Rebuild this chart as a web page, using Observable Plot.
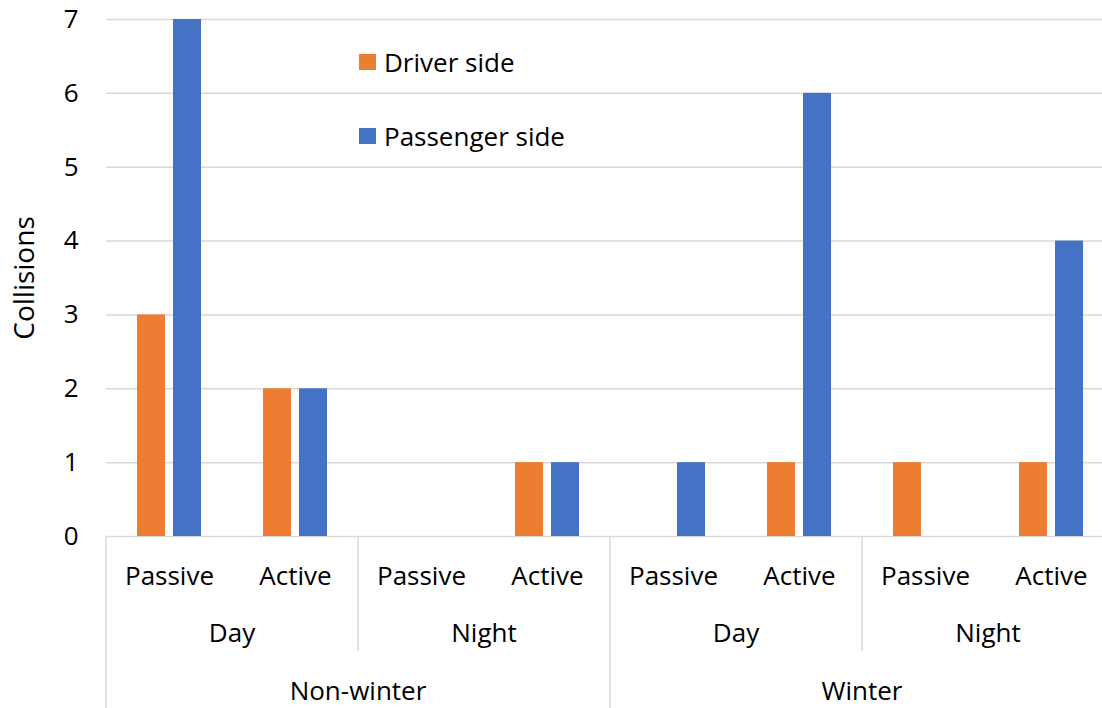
<!DOCTYPE html>
<html><head><meta charset="utf-8">
<script src="https://cdn.jsdelivr.net/npm/d3@7"></script>
<script src="https://cdn.jsdelivr.net/npm/@observablehq/plot@0.6"></script>
<style>
html,body{margin:0;padding:0;background:#fff;overflow:hidden;}
#wrap{position:relative;width:1102px;height:708px;overflow:hidden;}
#wrap svg{position:absolute;left:0;top:0;max-width:none !important;}
.leg{position:absolute;left:359px;font:26px "Open Sans";color:#000;display:flex;align-items:center;white-space:nowrap;}
.leg i{display:inline-block;width:17px;height:16px;margin-right:8px;}
</style></head><body><div id="wrap"></div>
<script>
const seasons = ["Non-winter", "Winter"];
const times = ["Day", "Night"];
const modes = ["Passive", "Active"];
const seriesNames = ["Driver side", "Passenger side"];
const seriesColors = ["#ED7D31", "#4472C4"];
const driverSide = [3, 2, 0, 1, 0, 1, 1, 1];
const passengerSide = [7, 2, 0, 1, 1, 6, 0, 4];
const yTicks = [0, 1, 2, 3, 4, 5, 6, 7];
const yLabel = "Collisions";

const groups = [];
seasons.forEach(s => times.forEach(t => modes.forEach(m => groups.push({season: s, time: t, mode: m, key: `${s}|${t}|${m}`}))));
const rows = [];
groups.forEach((g, i) => {
  rows.push({...g, series: seriesNames[0], value: driverSide[i]});
  rows.push({...g, series: seriesNames[1], value: passengerSide[i]});
});

const FONT = "Open Sans";
const FS = 26;

function hierarchy(index, scales, values, dimensions) {
  const x = scales.x;
  const n = groups.length;
  const bw = (dimensions.width - dimensions.marginLeft - dimensions.marginRight) / n;
  const y0 = dimensions.height - dimensions.marginBottom;
  const H = dimensions.height;
  const g = d3.create("svg:g").attr("font-family", FONT).attr("font-size", FS).attr("fill", "#000");
  const lines = [];
  groups.forEach((gr) => {
    if (gr.mode !== modes[0]) return;
    const full = gr.time === times[0];
    lines.push({x: x(gr.key), y2: full ? H : y0 + 115});
  });
  lines.push({x: x(groups[n - 1].key) + bw, y2: H});
  g.selectAll("line").data(lines).join("line")
    .attr("x1", d => d.x).attr("x2", d => d.x)
    .attr("y1", y0).attr("y2", d => d.y2)
    .attr("stroke", "#d9d9d9").attr("stroke-width", 1.5);
  const timeLabels = groups.filter(gr => gr.mode === modes[0]);
  g.selectAll("text.t").data(timeLabels).join("text").attr("class", "t")
    .attr("x", d => x(d.key) + bw).attr("y", y0 + 106)
    .attr("text-anchor", "middle").text(d => d.time);
  const seasonLabels = groups.filter(gr => gr.mode === modes[0] && gr.time === times[0]);
  g.selectAll("text.s").data(seasonLabels).join("text").attr("class", "s")
    .attr("x", d => x(d.key) + 2 * bw).attr("y", y0 + 164)
    .attr("text-anchor", "middle").text(d => d.season);
  return g.node();
}

const plot = Plot.plot({
  width: 1114,
  height: 708,
  marginLeft: 106,
  marginRight: 0,
  marginTop: 19,
  marginBottom: 172,
  style: {fontFamily: FONT, fontSize: FS + "px", color: "#000", background: "#fff", maxWidth: "none"},
  x: {type: "band", domain: groups.map(g => g.key), padding: 0, axis: null},
  y: {domain: [0, 7], axis: null},
  marks: [
    Plot.gridY(yTicks, {stroke: "#d9d9d9", strokeOpacity: 1, strokeWidth: 1.5}),
    Plot.barY(rows.filter(r => r.series === seriesNames[0]), {x: "key", y: "value", fill: seriesColors[0], insetLeft: 49, insetRight: 49, dx: -18}),
    Plot.barY(rows.filter(r => r.series === seriesNames[1]), {x: "key", y: "value", fill: seriesColors[1], insetLeft: 49, insetRight: 49, dx: 18}),
    Plot.axisY(yTicks, {tickSize: 0, tickPadding: 28, fontSize: FS, label: null, fill: "#000", tickFormat: d3.format("d")}),
    Plot.axisX(groups.map(g => g.key), {tickSize: 0, tickPadding: 30, fontSize: FS, label: null, tickFormat: k => k.split("|")[2], fill: "#000"}),
    Plot.text([yLabel], {text: d => d, frameAnchor: "left", textAnchor: "middle", rotate: -90, dx: -81, fontSize: 28, fill: "#000"}),
    hierarchy
  ]
});
const wrap = document.getElementById("wrap");
wrap.appendChild(plot);
seriesNames.forEach((s, i) => {
  const d = document.createElement("div");
  d.className = "leg";
  d.style.top = (i === 0 ? 44 : 118) + "px";
  d.innerHTML = `<i style="background:${seriesColors[i]}"></i><span>${s}</span>`;
  wrap.appendChild(d);
});
</script>
</body></html>
